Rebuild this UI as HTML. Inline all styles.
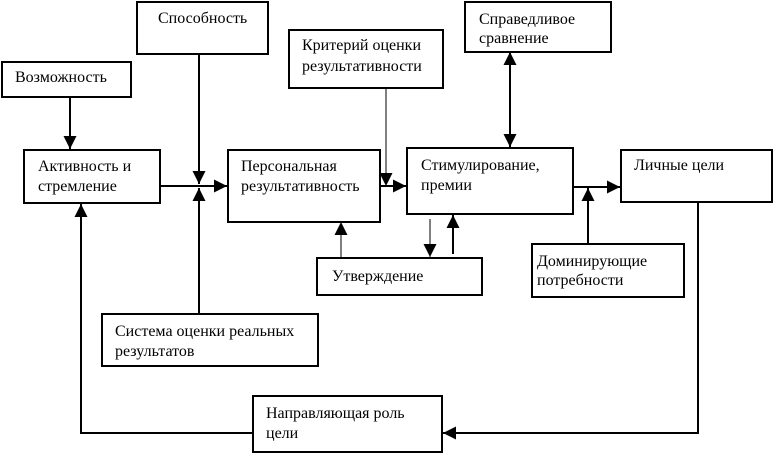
<!DOCTYPE html>
<html><head><meta charset="utf-8"><style>
html,body{margin:0;padding:0;background:#fff;}
svg{display:block;}
text{font-family:"Liberation Serif",serif;font-size:16px;fill:#000;}
</style></head><body>
<svg width="774" height="453" viewBox="0 0 774 453" xmlns="http://www.w3.org/2000/svg">
<defs>
<marker id="a" viewBox="0 0 10 10" refX="10" refY="5" markerWidth="13" markerHeight="13" markerUnits="userSpaceOnUse" orient="auto"><path d="M0,0 L10,5 L0,10 z" fill="#000"/></marker>
</defs>
<g fill="none" stroke="#000" stroke-width="2">
<rect x="137" y="2" width="131" height="52"/>
<rect x="2" y="62" width="129" height="35"/>
<rect x="24" y="150" width="136" height="53"/>
<rect x="228" y="150" width="152" height="72"/>
<rect x="289" y="30" width="154" height="58"/>
<rect x="465" y="2" width="146" height="50"/>
<rect x="407" y="148" width="166" height="66"/>
<rect x="621" y="150" width="151" height="52"/>
<rect x="317" y="258" width="165" height="37"/>
<rect x="532" y="244" width="152" height="53"/>
<rect x="102" y="314" width="216" height="52"/>
<rect x="253" y="396" width="189" height="56"/>
</g>
<g stroke="#000" fill="none">
<line x1="70" y1="97" x2="70" y2="149" stroke-width="2" marker-end="url(#a)"/>
<line x1="160" y1="186" x2="227" y2="186" stroke-width="2" marker-end="url(#a)"/>
<line x1="199" y1="54" x2="199" y2="184" stroke-width="2" marker-end="url(#a)"/>
<line x1="199" y1="313" x2="199" y2="188" stroke-width="2" marker-end="url(#a)"/>
<line x1="386" y1="88" x2="386" y2="186" stroke-width="1" marker-end="url(#a)"/>
<line x1="380" y1="186" x2="406" y2="186" stroke-width="2" marker-end="url(#a)"/>
<line x1="341" y1="257" x2="341" y2="222" stroke-width="1" marker-end="url(#a)"/>
<line x1="430" y1="219" x2="430" y2="257" stroke-width="1" marker-end="url(#a)"/>
<line x1="453" y1="254" x2="453" y2="215" stroke-width="2" marker-end="url(#a)"/>
<line x1="510" y1="100" x2="510" y2="52" stroke-width="2" marker-end="url(#a)"/>
<line x1="510" y1="100" x2="510" y2="147" stroke-width="2" marker-end="url(#a)"/>
<line x1="573" y1="187" x2="620" y2="187" stroke-width="2" marker-end="url(#a)"/>
<line x1="588" y1="243" x2="588" y2="188" stroke-width="2" marker-end="url(#a)"/>
<polyline points="253,433 81,433 81,204" stroke-width="2" marker-end="url(#a)"/>
<polyline points="698,202 698,433 443,433" stroke-width="2" marker-end="url(#a)"/>
</g>
<text x="158" y="23">Способность</text>
<text x="15" y="82">Возможность</text>
<text x="38" y="171">Активность  и</text>
<text x="38" y="191">стремление</text>
<text x="241" y="171">Персональная</text>
<text x="241" y="191">результативность</text>
<text x="302" y="50">Критерий оценки</text>
<text x="302" y="71">результативности</text>
<text x="479" y="24">Справедливое</text>
<text x="479" y="43">сравнение</text>
<text x="421" y="170">Стимулирование,</text>
<text x="421" y="190">премии</text>
<text x="634" y="170">Личные цели</text>
<text x="332" y="281">Утверждение</text>
<text x="537" y="266">Доминирующие</text>
<text x="537" y="285">потребности</text>
<text x="115" y="336">Система оценки реальных</text>
<text x="115" y="356">результатов</text>
<text x="266" y="418">Направляющая роль</text>
<text x="266" y="438">цели</text>
</svg>
</body></html>
